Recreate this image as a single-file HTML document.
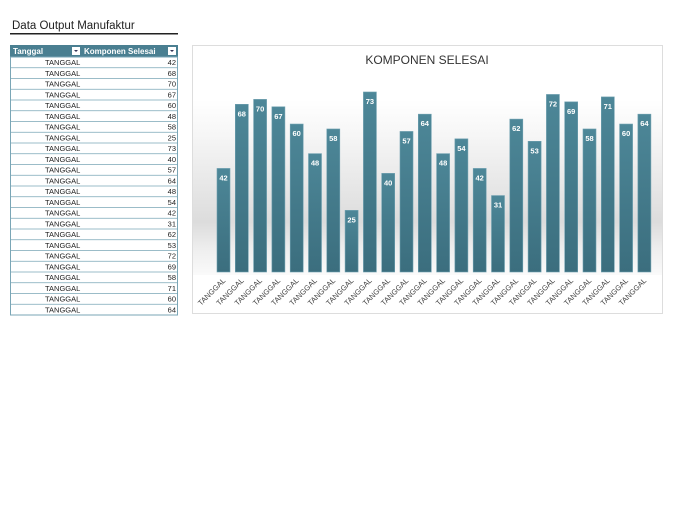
<!DOCTYPE html>
<html><head><meta charset="utf-8"><style>body{margin:0;background:#fff}svg{display:block}</style></head><body>
<svg width="675" height="520" xmlns="http://www.w3.org/2000/svg" font-family="Liberation Sans, sans-serif">
<defs>
<linearGradient id="bg" x1="0" y1="0" x2="0" y2="1">
<stop offset="0" stop-color="#fff"/><stop offset="0.2" stop-color="#f6f6f6"/><stop offset="0.7" stop-color="#dcdcdc"/><stop offset="0.85" stop-color="#eeeeee"/><stop offset="1" stop-color="#fafafa"/>
</linearGradient>
<linearGradient id="bar" x1="0" y1="0" x2="0" y2="1"><stop offset="0" stop-color="#4d8798"/><stop offset="1" stop-color="#3b6e7e"/></linearGradient>
</defs>
<text x="12" y="29" font-size="11.5" fill="#222">Data Output Manufaktur</text>
<rect x="10" y="33" width="168" height="1.5" fill="#222"/>
<rect x="10" y="45" width="168" height="12" fill="#4a7f91"/>
<text x="13" y="54" font-size="8" font-weight="bold" fill="#fff">Tanggal</text>
<rect x="72" y="47" width="8" height="8" fill="#fff"/><path d="M74 50 l2 2 l2 -2z" fill="#335"/>
<text x="84" y="54" font-size="8" font-weight="bold" fill="#fff">Komponen Selesai</text>
<rect x="168" y="47" width="8" height="8" fill="#fff"/><path d="M170 50 l2 2 l2 -2z" fill="#335"/>
<rect x="10.5" y="57" width="167" height="258" fill="none" stroke="#7aa6b6"/>
<g id="rows" font-size="7.5" fill="#222"></g>
<rect x="192.5" y="45.5" width="470" height="268" fill="#fff" stroke="#ddd"/>
<rect x="193" y="100" width="469" height="175" fill="url(#bg)"/>
<text x="427" y="64" font-size="12" fill="#333" text-anchor="middle">KOMPONEN SELESAI</text>
<g id="bars"></g>
</svg>
<script>
var v=[42,68,70,67,60,48,58,25,73,40,57,64,48,54,42,31,62,53,72,69,58,71,60,64];
var ns="http://www.w3.org/2000/svg",rows=document.getElementById("rows"),bars=document.getElementById("bars");
function el(p,t,a,txt){var e=document.createElementNS(ns,t);for(var k in a)e.setAttribute(k,a[k]);if(txt!=null)e.textContent=txt;p.appendChild(e);return e;}
v.forEach(function(x,i){
 var y=57+i*10.75;
 el(rows,"line",{x1:10,x2:178,y1:y+10.75,y2:y+10.75,stroke:"#7aa6b6","stroke-width":0.8});
 el(rows,"text",{x:45,y:y+8},"TANGGAL");
 el(rows,"text",{x:176,y:y+8,"text-anchor":"end"},x);
 var bx=217+i*18.3,h=x*2.466,by=272-h;
 el(bars,"rect",{x:bx,y:by,width:13,height:h,fill:"url(#bar)",stroke:"#6fa0b0","stroke-width":0.6});
 el(bars,"text",{x:bx+6.5,y:by+12,"font-size":7.5,"font-weight":"bold",fill:"#fff","text-anchor":"middle"},x);
 el(bars,"text",{x:bx+9,y:281,"font-size":7.5,fill:"#444","text-anchor":"end",transform:"rotate(-45 "+(bx+9)+" 281)"},"TANGGAL");
});
</script>
</body></html>
